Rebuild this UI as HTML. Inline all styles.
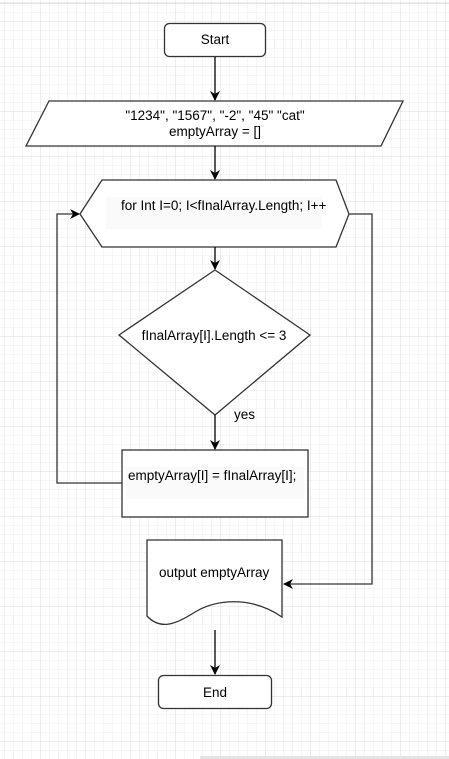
<!DOCTYPE html>
<html><head><style>
body{margin:0;width:449px;height:759px;overflow:hidden;background:#fff;}
svg{display:block}
text{font-family:"Liberation Sans",Arial,sans-serif;font-size:13.5px;fill:#000}
</style></head><body>
<svg width="449" height="759" viewBox="0 0 449 759">
<defs>
<pattern id="g" x="5" y="4" width="9" height="9" patternUnits="userSpaceOnUse"><path d="M9 0V9M0 9H9" fill="none" stroke="#eeeeee" stroke-width="1"/></pattern>
<pattern id="G" x="-4" y="-23" width="45" height="45" patternUnits="userSpaceOnUse"><path d="M45 0V45M0 45H45" fill="none" stroke="#dcdcdc" stroke-width="1"/></pattern>
<marker id="a" markerWidth="10" markerHeight="10" refX="9" refY="5" orient="auto" markerUnits="userSpaceOnUse"><path d="M0,0 L10,5 L0,10 L3,5 Z" fill="#000"/></marker>
</defs>
<rect width="449" height="759" fill="url(#g)"/>
<rect width="449" height="759" fill="url(#G)"/>
<line x1="0" y1="3" x2="449" y2="3" stroke="#ddd"/>
<rect x="200" y="756" width="249" height="3" fill="#e4e4e4"/>
<g stroke="#333" stroke-width="1.3" fill="#fff">
<rect x="164.5" y="23.5" width="101" height="33" rx="5"/>
<polygon points="49,101 403,101 381,146 26,146"/>
<polygon points="102,180 336,180 349,214 336,247 102,247 80,214"/>
<polygon points="215,270 310,335 215,415 119,335"/>
<rect x="122" y="450" width="186" height="67"/>
<path d="M147,540 H282 V617 C250,595 215,600 195,612 C175,625 160,630 147,616 Z"/>
<rect x="158.5" y="675.5" width="113" height="33" rx="5"/>
</g>
<rect x="106" y="197" width="216" height="32" fill="#fafafa"/>
<rect x="126" y="467" width="178" height="32" fill="#fafafa"/>
<g stroke="#000" stroke-width="1.3" fill="none" marker-end="url(#a)">
<line x1="215" y1="57" x2="215" y2="100"/>
<line x1="215" y1="146" x2="215" y2="179"/>
<line x1="215" y1="247" x2="215" y2="269"/>
<line x1="215" y1="415" x2="215" y2="449"/>
<line x1="215" y1="630" x2="215" y2="674"/>
<polyline points="349,214 372,214 372,584 284,584" stroke="#333"/>
<polyline points="122,483 57,483 57,214 79,214" stroke="#333"/>
</g>
<text x="215" y="44" text-anchor="middle">Start</text>
<text x="215" y="120" text-anchor="middle">"1234", "1567", "-2", "45" "cat"</text>
<text x="215" y="136" text-anchor="middle">emptyArray = []</text>
<text x="121" y="210">for Int I=0; I&lt;fInalArray.Length; I++</text>
<text x="214" y="340" text-anchor="middle">fInalArray[I].Length &lt;= 3</text>
<text x="234" y="419" font-size="11.5">yes</text>
<text x="128" y="480">emptyArray[I] = fInalArray[I];</text>
<text x="159" y="577">output emptyArray</text>
<text x="215" y="697" text-anchor="middle">End</text>
</svg>
</body></html>
